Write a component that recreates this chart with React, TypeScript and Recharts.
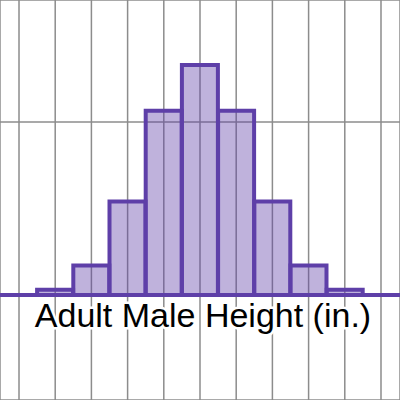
import React from 'react';
import { ComposedChart, Bar, XAxis, YAxis, CartesianGrid, ReferenceLine } from 'recharts';

// bin centres (inches), 2-inch bins
const binMids = [62, 64, 66, 68, 70, 72, 74, 76, 78];
const percents = [0.6, 3.4, 10.8, 21.3, 26.6, 21.3, 10.8, 3.4, 0.6];
const xTicks = [60, 61, 62, 63, 64, 65, 66, 67, 68, 69, 70, 71, 72, 73, 74, 75, 76, 77, 78, 79, 80];
const yTicks = [0, 20];

const data = binMids.map((mid, i) => ({ mid, pct: percents[i] }));

const purple = '#5e3fa8';

export default function App() {
  return (
    <div style={{ position: 'absolute', left: 0, top: 0, background: '#fff' }}>
      <ComposedChart
        width={400}
        height={400}
        data={data}
        margin={{ top: 0, right: 0, left: 0, bottom: 0 }}
        barCategoryGap={0}
        barGap={0}
      >
        <XAxis
          dataKey="mid"
          type="number"
          domain={[58.95, 81.05]}
          ticks={xTicks}
          allowDataOverflow
          hide
        />
        <YAxis type="number" domain={[-12.14, 34.1]} ticks={yTicks} allowDataOverflow hide />
        <CartesianGrid stroke="#8c8c8c" strokeWidth={1.5} />
        <Bar
          dataKey="pct"
          fill={purple}
          fillOpacity={0.4}
          stroke={purple}
          strokeWidth={4}
          isAnimationActive={false}
        />
        <ReferenceLine
          y={0}
          stroke={purple}
          strokeWidth={4}
          label={{
            value: 'Adult Male Height (in.)',
            position: 'bottom',
            offset: 8,
            dx: 3,
            fontSize: 34,
            fontFamily: 'Liberation Sans, Arial, sans-serif',
            fill: '#000',
            stroke: '#fff',
            strokeWidth: 5,
            paintOrder: 'stroke',
          }}
        />
      </ComposedChart>
    </div>
  );
}
